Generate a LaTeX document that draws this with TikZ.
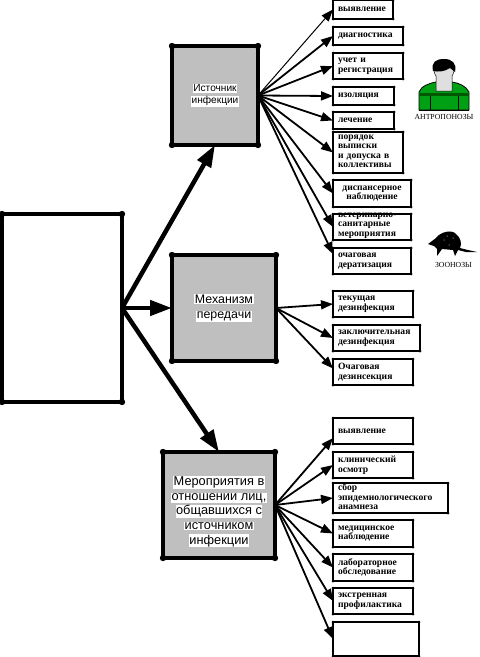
\documentclass[tikz,border=0pt]{standalone}
\usepackage{fontspec}
\setmainfont{Liberation Serif}
\setsansfont{Liberation Sans}
\usepackage{tikz}
\usetikzlibrary{arrows.meta,calc}
\newcommand{\upx}{0.75pt}
\newcommand{\hlite}[1]{{\setlength{\fboxsep}{0.4pt}\colorbox{white}{#1}}}
\newcommand{\tightlines}[2]{\raisebox{-1.6pt}{\smash{\parbox[c]{#1}{\raggedright\baselineskip=7.2pt #2}}}}
\definecolor{boxgray}{RGB}{191,191,191}
\definecolor{coatgreen}{RGB}{0,160,20}
\tikzset{
  itembox/.style 2 args={draw, line width=2*\upx, minimum width=#1*\upx, minimum height=#2*\upx,
    text width=(#1-10)*\upx, inner xsep=5*\upx, inner ysep=0pt, outer sep=0pt, align=left,
    font=\fontsize{7.2pt}{7.2pt}\selectfont\bfseries},
  headbox/.style 2 args={draw, fill=boxgray, line width=4*\upx, minimum width=#1*\upx, minimum height=#2*\upx,
    inner sep=0pt, outer sep=0pt, align=center},
  bigarrow/.style={line width=4.5*\upx, -{Triangle[length=22*\upx, width=15*\upx]}},
  smallarrow/.style={line width=1.8*\upx, -{Triangle[length=12*\upx, width=9*\upx]}},
  iconlabel/.style={font=\fontsize{5.8pt}{6pt}\selectfont, inner sep=0pt}
}
\begin{document}
\begin{tikzpicture}[x=0.75pt, y=-0.75pt]
\useasboundingbox (0,0) rectangle (479,657);
% Main boxes
\node[headbox={120}{188}, fill=white] (main) at (62,308) {};
\node[headbox={86}{99}, font=\sffamily\fontsize{7.6pt}{9pt}\selectfont] (src) at (215,95.5) {\hlite{Источник}\\\hlite{инфекции}};
\node[headbox={104}{106}, font=\sffamily\fontsize{9.3pt}{11.3pt}\selectfont] (mech) at (224,308) {\hlite{Механизм}\\\hlite{передачи}};
\node[headbox={112}{106}, font=\sffamily\fontsize{9.6pt}{11pt}\selectfont] (cont) at (219,505) {\rule{0pt}{17pt}\hlite{Мероприятия в}\\\hlite{отношении лиц,}\\\hlite{общавшихся с}\\\hlite{источником}\\\hlite{инфекции}};
% Items of the source box
\node[itembox={60}{19}] (a1) at (363,9.5) {выявление};
\node[itembox={70}{18}] (a2) at (368,36) {диагностика};
\node[itembox={70}{26}] (a3) at (368,66) {учет и\\регистрация};
\node[itembox={61}{18}] (a4) at (363.5,96) {изоляция};
\node[itembox={61}{17}] (a5) at (363.5,120.5) {лечение};
\node[itembox={70}{41}] (a6) at (368,152.5) {\tightlines{54pt}{порядок\\выписки\\и допуска в\\коллективы}};
\node[itembox={78}{27}, align=center] (a7) at (372,193.5) {диспансерное\\наблюдение};
\node[itembox={78}{26}] (a8) at (372,227) {\tightlines{54pt}{ветеринарно-\\санитарные\\мероприятия}};
\node[itembox={78}{26}] (a9) at (372,261) {очаговая\\дератизация};
% Items of the transmission box
\node[itembox={80}{26}] (t1) at (373,304) {текущая\\дезинфекция};
\node[itembox={87}{26}] (t2) at (376.5,338) {заключительная\\дезинфекция};
\node[itembox={80}{26}] (t3) at (373,372) {Очаговая\\дезинсекция};
% Items of the contact box
\node[itembox={80}{26}] (c1) at (373,431) {выявление};
\node[itembox={80}{26}] (c2) at (373,465) {клинический\\осмотр};
\node[itembox={115}{30}] (c3) at (390.5,498) {\tightlines{95pt}{сбор\\эпидемиологического\\анамнеза}};
\node[itembox={80}{27}] (c4) at (373,533.5) {медицинское\\наблюдение};
\node[itembox={80}{27}] (c5) at (373,567.5) {лабораторное\\обследование};
\node[itembox={80}{26}] (c6) at (373,601) {экстренная\\профилактика};
\node[itembox={86}{34}] (c7) at (376,639) {};
% Corner dots
\foreach \n in {main,src,mech,cont}
  \foreach \a in {north west,north east,south west,south east}
    \fill (\n.\a) circle (3.2);
\foreach \n in {a1,a2,a3,a4,a5,a6,a7,a8,a9,t1,t2,t3,c1,c2,c3,c4,c5,c6,c7}
  \foreach \a in {north west,north east,south west,south east}
    \fill (\n.\a) circle (1.5);
% Big arrows
\draw[bigarrow] (main.east) -- (src.south);
\draw[bigarrow] (main.east) -- (mech.west);
\draw[bigarrow] (main.east) -- (cont.north);
% Source arrows
\draw[smallarrow, line width=1*\upx] (src.east) -- (a1.west);
\foreach \t in {a2,a3,a4,a5,a6,a7,a8}
  \draw[smallarrow] (src.east) -- (\t.west);
\draw[smallarrow] (src.east) -- (a9.170);
% Transmission arrows
\draw[smallarrow] (mech.east) -- (t1.west);
\draw[smallarrow] (mech.east) -- (t2.west);
\draw[smallarrow] (mech.east) -- (t3.175);
% Contact arrows
\draw[smallarrow] (cont.east) -- (c1.190);
\foreach \t in {c2,c3,c4,c5,c6,c7}
  \draw[smallarrow] (cont.east) -- (\t.west);
% Person
\fill[coatgreen, draw=black, line width=0.8*\upx] (419,110) -- (419,92) .. controls (421,86) and (430,83) .. (436,82) -- (452,82) .. controls (459,83) and (466,86) .. (469,92) -- (469,110) -- cycle;
\fill[green!35!black] (419,93) rectangle (469,96);
\draw[black, line width=0.6*\upx] (430,96) -- (430,110) (458,96) -- (458,110) (419,110) -- (469,110);
\fill[gray!25, draw=black, line width=0.5*\upx] (436,91) -- (436,76) .. controls (432,70) and (433,62) .. (444,60) .. controls (455,62) and (456,70) .. (452,76) -- (452,91) -- cycle;
\fill[black] (433,71) .. controls (431,62) and (436,59) .. (444,59) .. controls (452,59) and (457,63) .. (455,72) -- (450,68) .. controls (444,72) and (438,72) .. (433,71) -- cycle;
\node[iconlabel] (anthro) at (444,117) {АНТРОПОНОЗЫ};
% Rat
\fill[black] (428,244) -- (436,238) .. controls (440,232) and (452,229) .. (456,234) .. controls (461,238) and (462,244) .. (460,248) -- (468,250) -- (477,252) -- (466,252) -- (458,250) -- (455,256) -- (453,250) -- (442,249) -- (437,256) -- (437,249) -- (434,246) -- cycle;
\fill[white] (444,240) circle (0.5) (449,245) circle (0.5) (453,238) circle (0.5) (447,236) circle (0.5);
\node[iconlabel] (zoo) at (453.5,265) {ЗООНОЗЫ};
\end{tikzpicture}
\end{document}
